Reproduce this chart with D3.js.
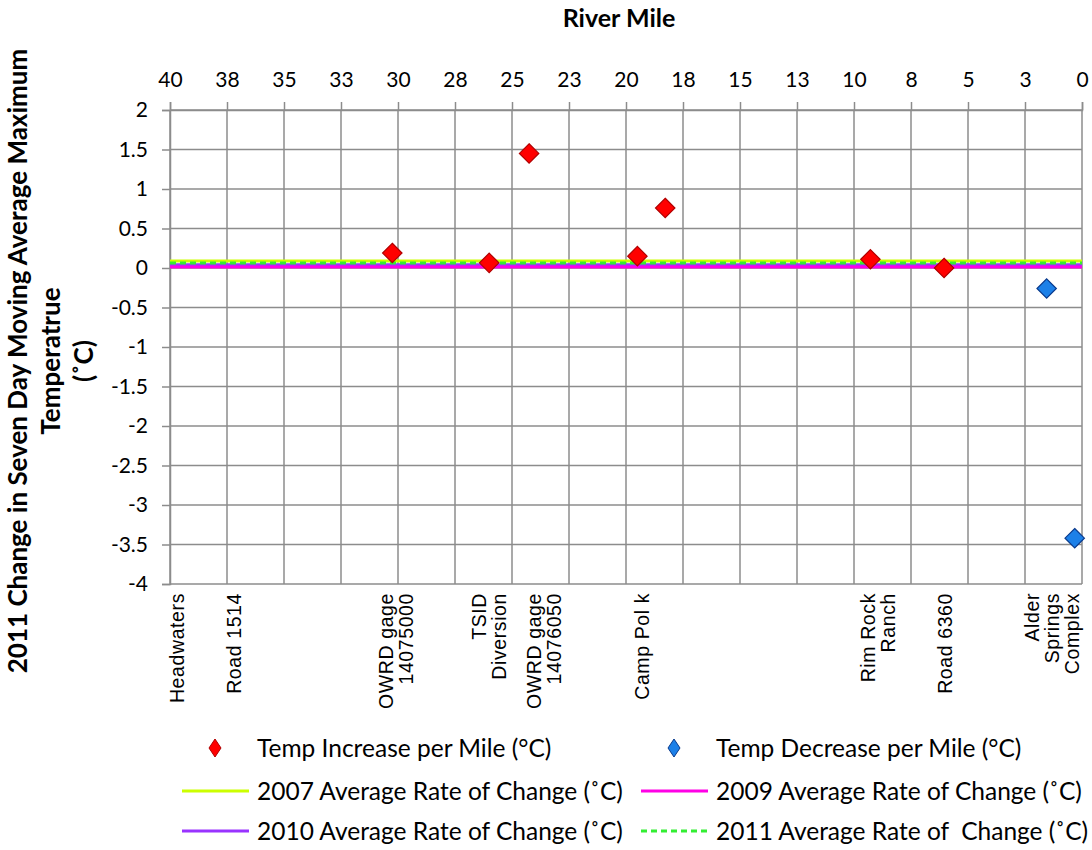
<!DOCTYPE html>
<html>
<head>
<meta charset="utf-8">
<script src="https://cdn.jsdelivr.net/npm/d3@7"></script>
<style>
  body { margin: 0; background: #fff; }
  svg { display: block; }
  text { font-family: Lato, "DejaVu Sans", sans-serif; fill: #000; }
  .site { font-family: "Liberation Sans", Arial, sans-serif; }
</style>
</head>
<body>
<svg id="chart" width="1092" height="850"></svg>
<script>
'use strict';

// River mile ticks (axis is reversed, 40 on the left)
const xTickValues = [40, 37.5, 35, 32.5, 30, 27.5, 25, 22.5, 20, 17.5, 15, 12.5, 10, 7.5, 5, 2.5, 0];
const xTickLabels = ['40', '38', '35', '33', '30', '28', '25', '23', '20', '18', '15', '13', '10', '8', '5', '3', '0'];
const yTickValues = [2, 1.5, 1, 0.5, 0, -0.5, -1, -1.5, -2, -2.5, -3, -3.5, -4];
const yTickLabels = ['2', '1.5', '1', '0.5', '0', '-0.5', '-1', '-1.5', '-2', '-2.5', '-3', '-3.5', '-4'];

// Temp increase per mile (red)
const increaseMiles = [30.25, 26.0, 24.25, 19.5, 18.28, 9.28, 6.05];
const increaseValues = [0.19, 0.065, 1.45, 0.15, 0.76, 0.11, 0.0];
// Temp decrease per mile (blue)
const decreaseMiles = [1.55, 0.32];
const decreaseValues = [-0.26, -3.42];

// Average rate of change lines
const rateLabels = ['2007 Average Rate of Change (˚C)', '2009 Average Rate of Change (˚C)',
  '2010 Average Rate of Change (˚C)', '2011 Average Rate of\u00a0 Change (˚C)'];
const rateValues = [0.089, 0.013, 0.04, 0.064];
const rateColors = ['#CCFF00', '#FF00E6', '#9933FF', '#33EE33'];

// Site names along the bottom
const siteNames = [['Headwaters'], ['Road 1514'], ['OWRD gage', '14075000'], ['TSID', 'Diversion'],
  ['OWRD gage', '14076050'], ['Camp Pol k'], ['Rim Rock', 'Ranch'], ['Road 6360'], ['Alder', 'Springs', 'Complex']];
const siteMiles = [39.7, 37.2, 30.1, 26.0, 23.6, 19.3, 8.95, 6.0, 1.3];

const margin = {top: 110, left: 170},
  width = 912,
  height = 474;

const svg = d3.select('#chart');
const g = svg.append('g').attr('transform', `translate(${margin.left},${margin.top})`);

const x = d3.scaleLinear().domain([40, 0]).range([0, width]);
const y = d3.scaleLinear().domain([-4, 2]).range([height, 0]);

const gridColor = '#8c8c8c';

// Grid
g.append('g').selectAll('line').data(xTickValues).enter().append('line')
  .attr('x1', d => x(d)).attr('x2', d => x(d))
  .attr('y1', 0).attr('y2', height)
  .attr('stroke', gridColor).attr('stroke-width', 1.5);
g.append('g').selectAll('line').data(yTickValues).enter().append('line')
  .attr('x1', 0).attr('x2', width)
  .attr('y1', d => y(d)).attr('y2', d => y(d))
  .attr('stroke', gridColor).attr('stroke-width', 1.5);

// Axes
const xAxis = g.append('g')
  .call(d3.axisTop(x).tickValues(xTickValues).tickSize(8).tickPadding(15)
    .tickFormat((d, i) => xTickLabels[i]));
const yAxis = g.append('g')
  .call(d3.axisLeft(y).tickValues(yTickValues).tickSize(8).tickPadding(14)
    .tickFormat((d, i) => yTickLabels[i]));
[xAxis, yAxis].forEach(a => {
  a.select('.domain').attr('stroke', gridColor).attr('stroke-width', 1.5);
  a.selectAll('.tick line').attr('stroke', gridColor).attr('stroke-width', 1.5);
  a.selectAll('.tick text').attr('font-family', 'Lato').attr('font-size', 21).attr('fill', '#000');
});

// Rate lines (drawn in order so the dashed 2011 sits on top)
const lineOrder = [0, 2, 1, 3];
lineOrder.forEach(i => {
  g.append('line')
    .attr('x1', 0).attr('x2', width)
    .attr('y1', y(rateValues[i])).attr('y2', y(rateValues[i]))
    .attr('stroke', rateColors[i]).attr('stroke-width', 3)
    .attr('stroke-dasharray', i === 3 ? '6,4' : null);
});

// Diamonds
const diamond = d3.symbol().type(d3.symbolDiamond2).size(240);
function drawPoints(miles, values, fill, stroke) {
  g.append('g').selectAll('path').data(miles).enter().append('path')
    .attr('d', diamond)
    .attr('transform', (d, i) => `translate(${x(d)},${y(values[i])})`)
    .attr('fill', fill).attr('stroke', stroke).attr('stroke-width', 1.2);
}
drawPoints(increaseMiles, increaseValues, '#FF0000', '#B00000');
drawPoints(decreaseMiles, decreaseValues, '#1C80E8', '#0A3A8C');

// Site labels, rotated, top end just under the plot
const lineH = 20;
const sites = g.append('g').selectAll('text').data(siteNames).enter().append('text')
  .attr('class', 'site')
  .attr('font-size', 19.5)
  .attr('letter-spacing', 0.6)
  .attr('text-anchor', 'end')
  .attr('transform', (d, i) => `translate(${x(siteMiles[i])},${height + 9}) rotate(-90)`);
sites.each(function (lines) {
  const t = d3.select(this);
  lines.forEach((s, k) => {
    t.append('tspan').attr('x', 0)
      .attr('y', (k - (lines.length - 1) / 2) * lineH + 7)
      .text(s);
  });
});

// Axis titles
svg.append('text')
  .attr('x', 619).attr('y', 27)
  .attr('text-anchor', 'middle')
  .attr('font-weight', 'bold').attr('font-size', 25)
  .text('River Mile');

const yTitle = svg.append('text')
  .attr('transform', 'translate(0,361) rotate(-90)')
  .attr('text-anchor', 'middle')
  .attr('font-weight', 'bold').attr('font-size', 26);
['2011 Change in Seven Day Moving Average Maximum', 'Temperatrue', '(˚C)'].forEach((s, k) => {
  yTitle.append('tspan').attr('x', 0).attr('y', 27 + k * 33).text(s);
});

// Legend
const legend = svg.append('g').attr('font-size', 24.5);
const legendItems = [
  {type: 'marker', fill: '#FF0000', stroke: '#B00000', label: 'Temp Increase per Mile (°C)', x: 182, y: 748},
  {type: 'marker', fill: '#1C80E8', stroke: '#0A3A8C', label: 'Temp Decrease per Mile (°C)', x: 641, y: 748},
  {type: 'line', idx: 0, x: 182, y: 791},
  {type: 'line', idx: 1, x: 641, y: 791},
  {type: 'line', idx: 2, x: 182, y: 831},
  {type: 'line', idx: 3, x: 641, y: 831}
];
legendItems.forEach(it => {
  const lg = legend.append('g').attr('transform', `translate(${it.x},${it.y})`);
  if (it.type === 'marker') {
    lg.append('path').attr('d', 'M0,-9L6,0L0,9L-6,0Z')
      .attr('transform', 'translate(33,0)')
      .attr('fill', it.fill).attr('stroke', it.stroke).attr('stroke-width', 1);
    lg.append('text').attr('x', 75).attr('y', 9).text(it.label);
  } else {
    lg.append('line').attr('x1', 0).attr('x2', 67).attr('y1', 0).attr('y2', 0)
      .attr('stroke', rateColors[it.idx]).attr('stroke-width', 3)
      .attr('stroke-dasharray', it.idx === 3 ? '6,4' : null);
    lg.append('text').attr('x', 75).attr('y', 9).text(rateLabels[it.idx]);
  }
});
</script>
</body>
</html>
